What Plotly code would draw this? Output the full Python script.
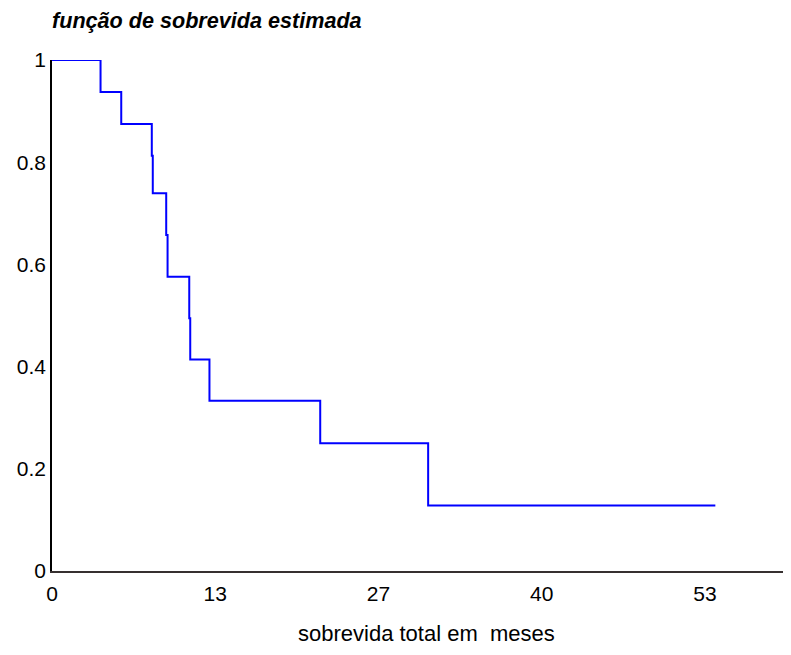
import plotly.graph_objects as go

# Kaplan-Meier estimate
times = [0, 3.94, 5.62, 8.10, 8.18, 9.27, 9.38, 11.14, 11.22, 12.78, 21.77, 30.53, 53.84]
survival = [1.0, 0.9375, 0.875, 0.8125, 0.739, 0.6575, 0.576, 0.4945, 0.414, 0.333, 0.25, 0.128, 0.128]

x_tickvals = [0, 13.25, 26.5, 39.75, 53]
x_ticktext = ["0", "13", "27", "40", "53"]
y_tickvals = [0, 0.2, 0.4, 0.6, 0.8, 1]
y_ticktext = ["0", "0.2", "0.4", "0.6", "0.8", "1"]

title_text = "função de sobrevida estimada"
x_title_text = "sobrevida total em\u00a0 meses"

font_family = "Liberation Sans, Arial, sans-serif"

W, H = 783, 639  # page body adds an 8px margin; keep the figure inside the window

fig = go.Figure()
fig.add_trace(go.Scatter(
    x=times, y=survival, mode="lines", line_shape="hv",
    line=dict(color="#0000ff", width=2), cliponaxis=False,
    showlegend=False, hoverinfo="x+y",
))

fig.update_layout(
    width=W, height=H,
    margin=dict(l=44, r=1, t=52, b=76),
    paper_bgcolor="white", plot_bgcolor="white",
    font=dict(family=font_family, color="black", size=20),
    title=dict(
        text="<b><i>" + title_text + "</i></b>",
        x=44 / W, xanchor="left", y=1 - 12 / H, yanchor="middle",
        font=dict(family=font_family, size=21.6, color="black"),
    ),
    xaxis=dict(
        range=[0, 59.9], tickvals=x_tickvals, ticktext=x_ticktext,
        showgrid=False, zeroline=False, showline=True, linecolor="#363030", linewidth=2,
        ticks="outside", ticklen=3, tickcolor="rgba(0,0,0,0)",
        tickfont=dict(family=font_family, size=21),
        automargin=False,
    ),
    yaxis=dict(
        range=[0, 1], tickvals=y_tickvals, ticktext=y_ticktext,
        showgrid=False, zeroline=False, showline=True, linecolor="black", linewidth=1.5,
        ticks="",
        tickfont=dict(family=font_family, size=21),
        automargin=False,
    ),
    annotations=[dict(
        text=x_title_text, xref="paper", yref="paper", x=0.507, y=0,
        xanchor="center", yanchor="middle", yshift=-62, showarrow=False,
        font=dict(family=font_family, size=22, color="black"),
    )],
)

fig.write_html("out.html")
